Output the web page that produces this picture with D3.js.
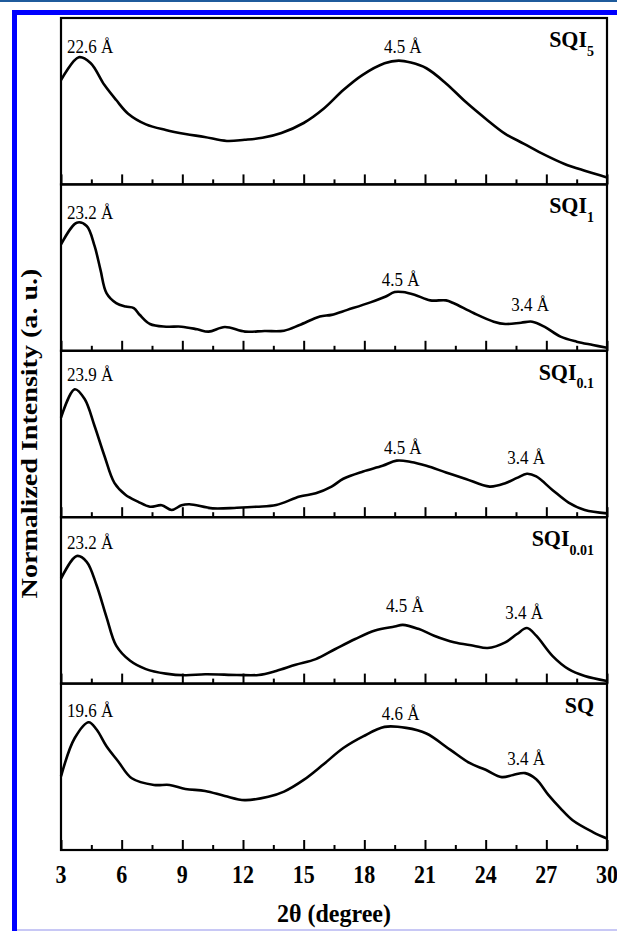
<!DOCTYPE html>
<html>
<head>
<meta charset="utf-8">
<script src="https://cdn.jsdelivr.net/npm/d3@7"></script>
<style>
  body { margin: 0; background: #fff; }
  svg { display: block; }
</style>
</head>
<body>
<script>
// 2θ positions (degree) and intensity (a.u., 0-100 per panel)
const sqi5X = [3, 3.88, 4.46, 5.15, 5.73, 6.32, 7.2, 8.18, 9.15, 10.1, 11.2, 12.08, 12.96, 13.9, 15, 16, 16.96, 17.9, 19, 19.7, 20.3, 21.07, 22.04, 23.02, 24, 24.97, 25.9, 26.9, 27.9, 28.9, 30];
const sqi5Y = [62.7, 76.4, 73.0, 59.7, 50.7, 42.5, 36.1, 32.7, 30.3, 28.5, 26.1, 26.8, 28.0, 30.9, 36.9, 45.6, 56.7, 65.7, 72.8, 74.4, 73.2, 69.8, 60.7, 49.5, 39.5, 30.4, 24.4, 17.9, 12.3, 8.2, 4.2];

const sqi1X = [3, 3.78, 4.27, 4.66, 4.95, 5.25, 5.73, 6.2, 6.6, 6.9, 7.4, 8.2, 8.96, 9.74, 10.3, 11.1, 12.1, 13.06, 14.03, 14.8, 15.8, 16.38, 17.16, 18.3, 19, 19.5, 19.9, 20.48, 21.26, 22.04, 22.4, 23.4, 24.4, 24.97, 25.75, 26.3, 26.9, 27.7, 28.5, 29.3, 30];
const sqi1Y = [63.9, 77.0, 75.0, 63.0, 48.8, 34.7, 28.7, 26.6, 25.7, 21.5, 16.1, 14.5, 14.5, 12.9, 11.5, 14.3, 11.5, 11.9, 12.1, 15.5, 20.6, 21.6, 24.6, 29.1, 32.3, 35.3, 35.3, 33.7, 30.3, 30.3, 28.7, 22.7, 17.5, 16.1, 16.9, 17.5, 14.5, 8.5, 5.5, 3.5, 1.8];

const sqi01X = [3, 3.68, 4.17, 4.66, 5.15, 5.64, 6.2, 6.8, 7.4, 7.98, 8.47, 8.96, 9.35, 10.5, 11.7, 12.67, 13.64, 14.8, 15.6, 16.38, 16.96, 17.94, 18.9, 19.6, 20.3, 21.07, 22.04, 23.02, 24.2, 24.97, 25.55, 26.04, 26.5, 27.3, 28.1, 28.9, 30];
const sqi01Y = [59.8, 76.9, 71.0, 54.8, 36.8, 20.6, 13.3, 9.4, 6.3, 7.2, 4.3, 7.2, 7.8, 5.3, 5.7, 6.3, 7.3, 12.4, 14.4, 18.4, 23.1, 27.5, 30.9, 34.0, 33.2, 30.9, 26.9, 23.0, 18.4, 20.4, 23.6, 26.1, 24.5, 16.4, 8.8, 4.3, 2.3];

const sqi001X = [3, 3.78, 4.27, 4.76, 5.25, 5.73, 6.42, 7.2, 8.18, 9.15, 10.13, 11.7, 12.77, 13.64, 14.6, 15.6, 16.57, 17.55, 18.53, 19.5, 19.9, 20.67, 21.45, 22.43, 23.4, 24.1, 24.97, 25.55, 26.04, 26.5, 27.3, 28.1, 28.9, 30];
const sqi001Y = [63.1, 76.7, 73.2, 59.1, 40.0, 22.8, 13.7, 8.7, 6.0, 5.0, 5.6, 5.2, 5.2, 7.6, 11.3, 14.7, 20.8, 26.8, 31.9, 34.3, 35.3, 32.9, 28.8, 24.8, 22.8, 21.4, 24.8, 29.8, 33.4, 28.8, 16.7, 8.7, 4.6, 1.6];

const sqX = [3, 3.68, 4.37, 4.76, 5.25, 5.83, 6.5, 7.6, 8.37, 9.15, 10.13, 11.1, 12.08, 13.25, 14.03, 15, 16, 16.96, 17.94, 19, 20.07, 21.07, 22.24, 23.2, 24, 24.8, 25.36, 25.95, 26.5, 27.1, 27.7, 28.3, 29.3, 30];
const sqY = [44.2, 67.3, 76.8, 72.4, 62.3, 53.2, 43.1, 39.1, 39.1, 36.7, 35.5, 32.5, 30.0, 32.0, 35.1, 42.1, 51.7, 61.3, 68.3, 74.0, 73.4, 70.0, 60.3, 52.3, 48.2, 43.8, 45.1, 46.2, 42.5, 33.1, 25.0, 17.9, 10.8, 6.9];

const sampleNames = ["SQI", "SQI", "SQI", "SQI", "SQ"];
const sampleSubs = ["5", "1", "0.1", "0.01", ""];

// d-spacing annotations: [2θ, intensity, text]
const peakLabels = [
  [[3.3, 79, "22.6 Å"], [19.9, 79, "4.5 Å"]],
  [[3.3, 79, "23.2 Å"], [19.8, 39, "4.5 Å"], [26.2, 24, "3.4 Å"]],
  [[3.3, 82, "23.9 Å"], [19.9, 38, "4.5 Å"], [26.0, 32, "3.4 Å"]],
  [[3.3, 81, "23.2 Å"], [20.0, 43, "4.5 Å"], [25.9, 39, "3.4 Å"]],
  [[3.3, 80, "19.6 Å"], [19.8, 78, "4.6 Å"], [26.0, 51, "3.4 Å"]]
];

const xTicks = [3, 6, 9, 12, 15, 18, 21, 24, 27, 30];
const xMinor = [4.5, 7.5, 10.5, 13.5, 16.5, 19.5, 22.5, 25.5, 28.5];

const seriesX = [sqi5X, sqi1X, sqi01X, sqi001X, sqX];
const seriesY = [sqi5Y, sqi1Y, sqi01Y, sqi001Y, sqY];

const width = 617, height = 931;
const plotLeft = 61, plotRight = 607, plotTop = 18, plotBottom = 850;
const panelH = (plotBottom - plotTop) / 5;
const serif = "'Liberation Serif', 'Times New Roman', serif";

const svg = d3.select("body").append("svg")
  .attr("width", width)
  .attr("height", height);

// the original figure is a bit taller than wide, so text gets a vertical stretch
function label(parent, px, py, size, stretch, anchor, bold) {
  return parent.append("text")
    .attr("transform", `translate(${px},${py}) scale(1,${stretch})`)
    .attr("text-anchor", anchor)
    .attr("font-family", serif)
    .attr("font-weight", bold ? "bold" : "normal")
    .attr("font-size", size);
}

// page decorations (blue frame lines)
svg.append("rect").attr("x", 0).attr("y", 0).attr("width", width).attr("height", 2).attr("fill", "#1f5b9c");
svg.append("rect").attr("x", 12).attr("y", 10).attr("width", width - 12).attr("height", 5).attr("fill", "#0000ff");
svg.append("rect").attr("x", 12).attr("y", 10).attr("width", 5).attr("height", height - 10).attr("fill", "#0000ff");
svg.append("rect").attr("x", 17).attr("y", 929).attr("width", width - 17).attr("height", 2).attr("fill", "#c8c8f5");

const x = d3.scaleLinear().domain([3, 30]).range([plotLeft, plotRight]);

seriesX.forEach((xs, i) => {
  const y0 = plotTop + i * panelH;
  const y = d3.scaleLinear().domain([0, 100]).range([y0 + panelH, y0]);
  const g = svg.append("g");

  // inward ticks on the bottom axis of each panel
  const axis = g.append("g")
    .attr("transform", `translate(0,${y0 + panelH})`)
    .call(d3.axisTop(x).tickValues(xTicks).tickSize(10).tickFormat(""));
  axis.select(".domain").remove();
  axis.selectAll("line").attr("stroke", "#000").attr("stroke-width", 2);
  const minor = g.append("g")
    .attr("transform", `translate(0,${y0 + panelH})`)
    .call(d3.axisTop(x).tickValues(xMinor).tickSize(5).tickFormat(""));
  minor.select(".domain").remove();
  minor.selectAll("line").attr("stroke", "#000").attr("stroke-width", 2);

  const pts = xs.map((v, j) => [v, seriesY[i][j]]);
  g.append("path")
    .datum(pts)
    .attr("fill", "none")
    .attr("stroke", "#000")
    .attr("stroke-width", 2.6)
    .attr("stroke-linejoin", "round")
    .attr("d", d3.line().x(d => x(d[0])).y(d => y(d[1])).curve(d3.curveCatmullRom));

  g.append("rect")
    .attr("x", plotLeft).attr("y", y0)
    .attr("width", plotRight - plotLeft).attr("height", panelH)
    .attr("fill", "none").attr("stroke", "#000").attr("stroke-width", 2.2);

  peakLabels[i].forEach(([px, py, t], k) => {
    label(g, x(px), y(py), 17, 1.15, k === 0 ? "start" : "middle", false).text(t);
  });

  const name = label(g, plotRight - 13, y0 + 29, 22, 1.08, "end", true);
  name.append("tspan").text(sampleNames[i]);
  if (sampleSubs[i]) {
    name.append("tspan").attr("dy", 8).attr("font-size", 14).text(sampleSubs[i]);
  }
});

// x tick labels
xTicks.forEach(d => {
  label(svg, x(d), 883, 22, 1.1, "middle", true).text(d);
});

label(svg, (plotLeft + plotRight) / 2, 922, 24, 1.05, "middle", true).text("2θ (degree)");

svg.append("text")
  .attr("transform", `translate(37,${(269 + 598) / 2}) rotate(-90) scale(1.17,1)`)
  .attr("text-anchor", "middle")
  .attr("font-family", serif)
  .attr("font-weight", "bold")
  .attr("font-size", 24)
  .text("Normalized Intensity (a. u.)");
</script>
</body>
</html>
